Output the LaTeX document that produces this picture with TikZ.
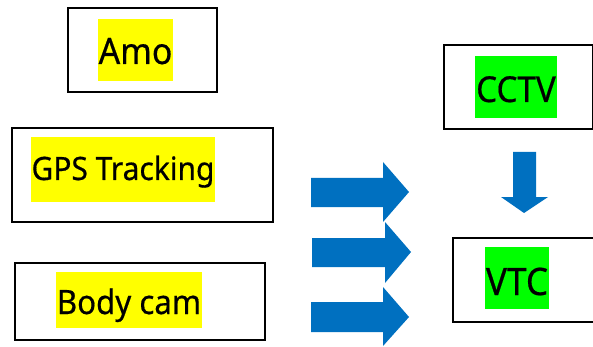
\documentclass[tikz,border=0pt]{standalone}
\usepackage{fontspec}
\setmainfont{Noto Sans}[FakeStretch=0.93, FakeBold=0.5]
\definecolor{hlyellow}{HTML}{FFFF00}
\definecolor{hlgreen}{HTML}{00FF00}
\definecolor{arrowblue}{HTML}{0070C0}
\tikzset{
  framebox/.style={draw=black, line width=1.8pt, anchor=north west, inner sep=0pt},
  hl/.style={anchor=base, inner sep=0pt, text=black, align=center},
  yhl/.style={hl, fill=hlyellow},
  ghl/.style={hl, fill=hlgreen},
  fs/.style={font=\fontsize{#1}{#1}\selectfont},
  blockarrow/.style={fill=arrowblue, draw=none}
}
\begin{document}
\begin{tikzpicture}[x=1pt,y=-1pt]
\useasboundingbox (0,0) rectangle (593,347);
% frames
\node[framebox, minimum width=149pt, minimum height=84pt] (amobox) at (67,7) {};
\node[framebox, minimum width=261pt, minimum height=94pt] (gpsbox) at (11,127) {};
\node[framebox, minimum width=250pt, minimum height=77pt] (bodybox) at (14,262) {};
\node[framebox, minimum width=149pt, minimum height=84pt] (cctvbox) at (443,44) {};
\node[framebox, minimum width=170pt, minimum height=84pt] (vtcbox) at (452,237) {};
% highlighted labels
\node[yhl, fs=36.4, minimum width=75pt, text height=45pt, text depth=17pt] (amo) at (135.5,64) {Amo};
\node[yhl, fs=32.2, minimum width=184pt, text height=43pt, text depth=22pt] (gps) at (123,180) {GPS Tracking};
\node[yhl, fs=33.6, minimum width=146pt, text height=42pt, text depth=14pt] (body) at (129,314) {Body cam};
\node[ghl, fs=35.7, minimum width=82pt, text height=46pt, text depth=16pt] (cctv) at (516,102) {CCTV};
\node[ghl, fs=37.8, minimum width=64pt, text height=48pt, text depth=14pt] (vtc) at (517,295) {VTC};
% block arrows
\fill[blockarrow] (311,178) -- (383,178) -- (383,162) -- (409,192) -- (383,222) -- (383,207) -- (311,207) -- cycle;
\fill[blockarrow] (312,238) -- (385,238) -- (385,222) -- (411,252) -- (385,283) -- (385,267) -- (312,267) -- cycle;
\fill[blockarrow] (311,302) -- (383,302) -- (383,287) -- (409,317) -- (383,346) -- (383,332) -- (311,332) -- cycle;
\fill[blockarrow] (513,152) -- (536,152) -- (536,197) -- (548,197) -- (524,213) -- (501,197) -- (513,197) -- cycle;
\end{tikzpicture}
\end{document}
